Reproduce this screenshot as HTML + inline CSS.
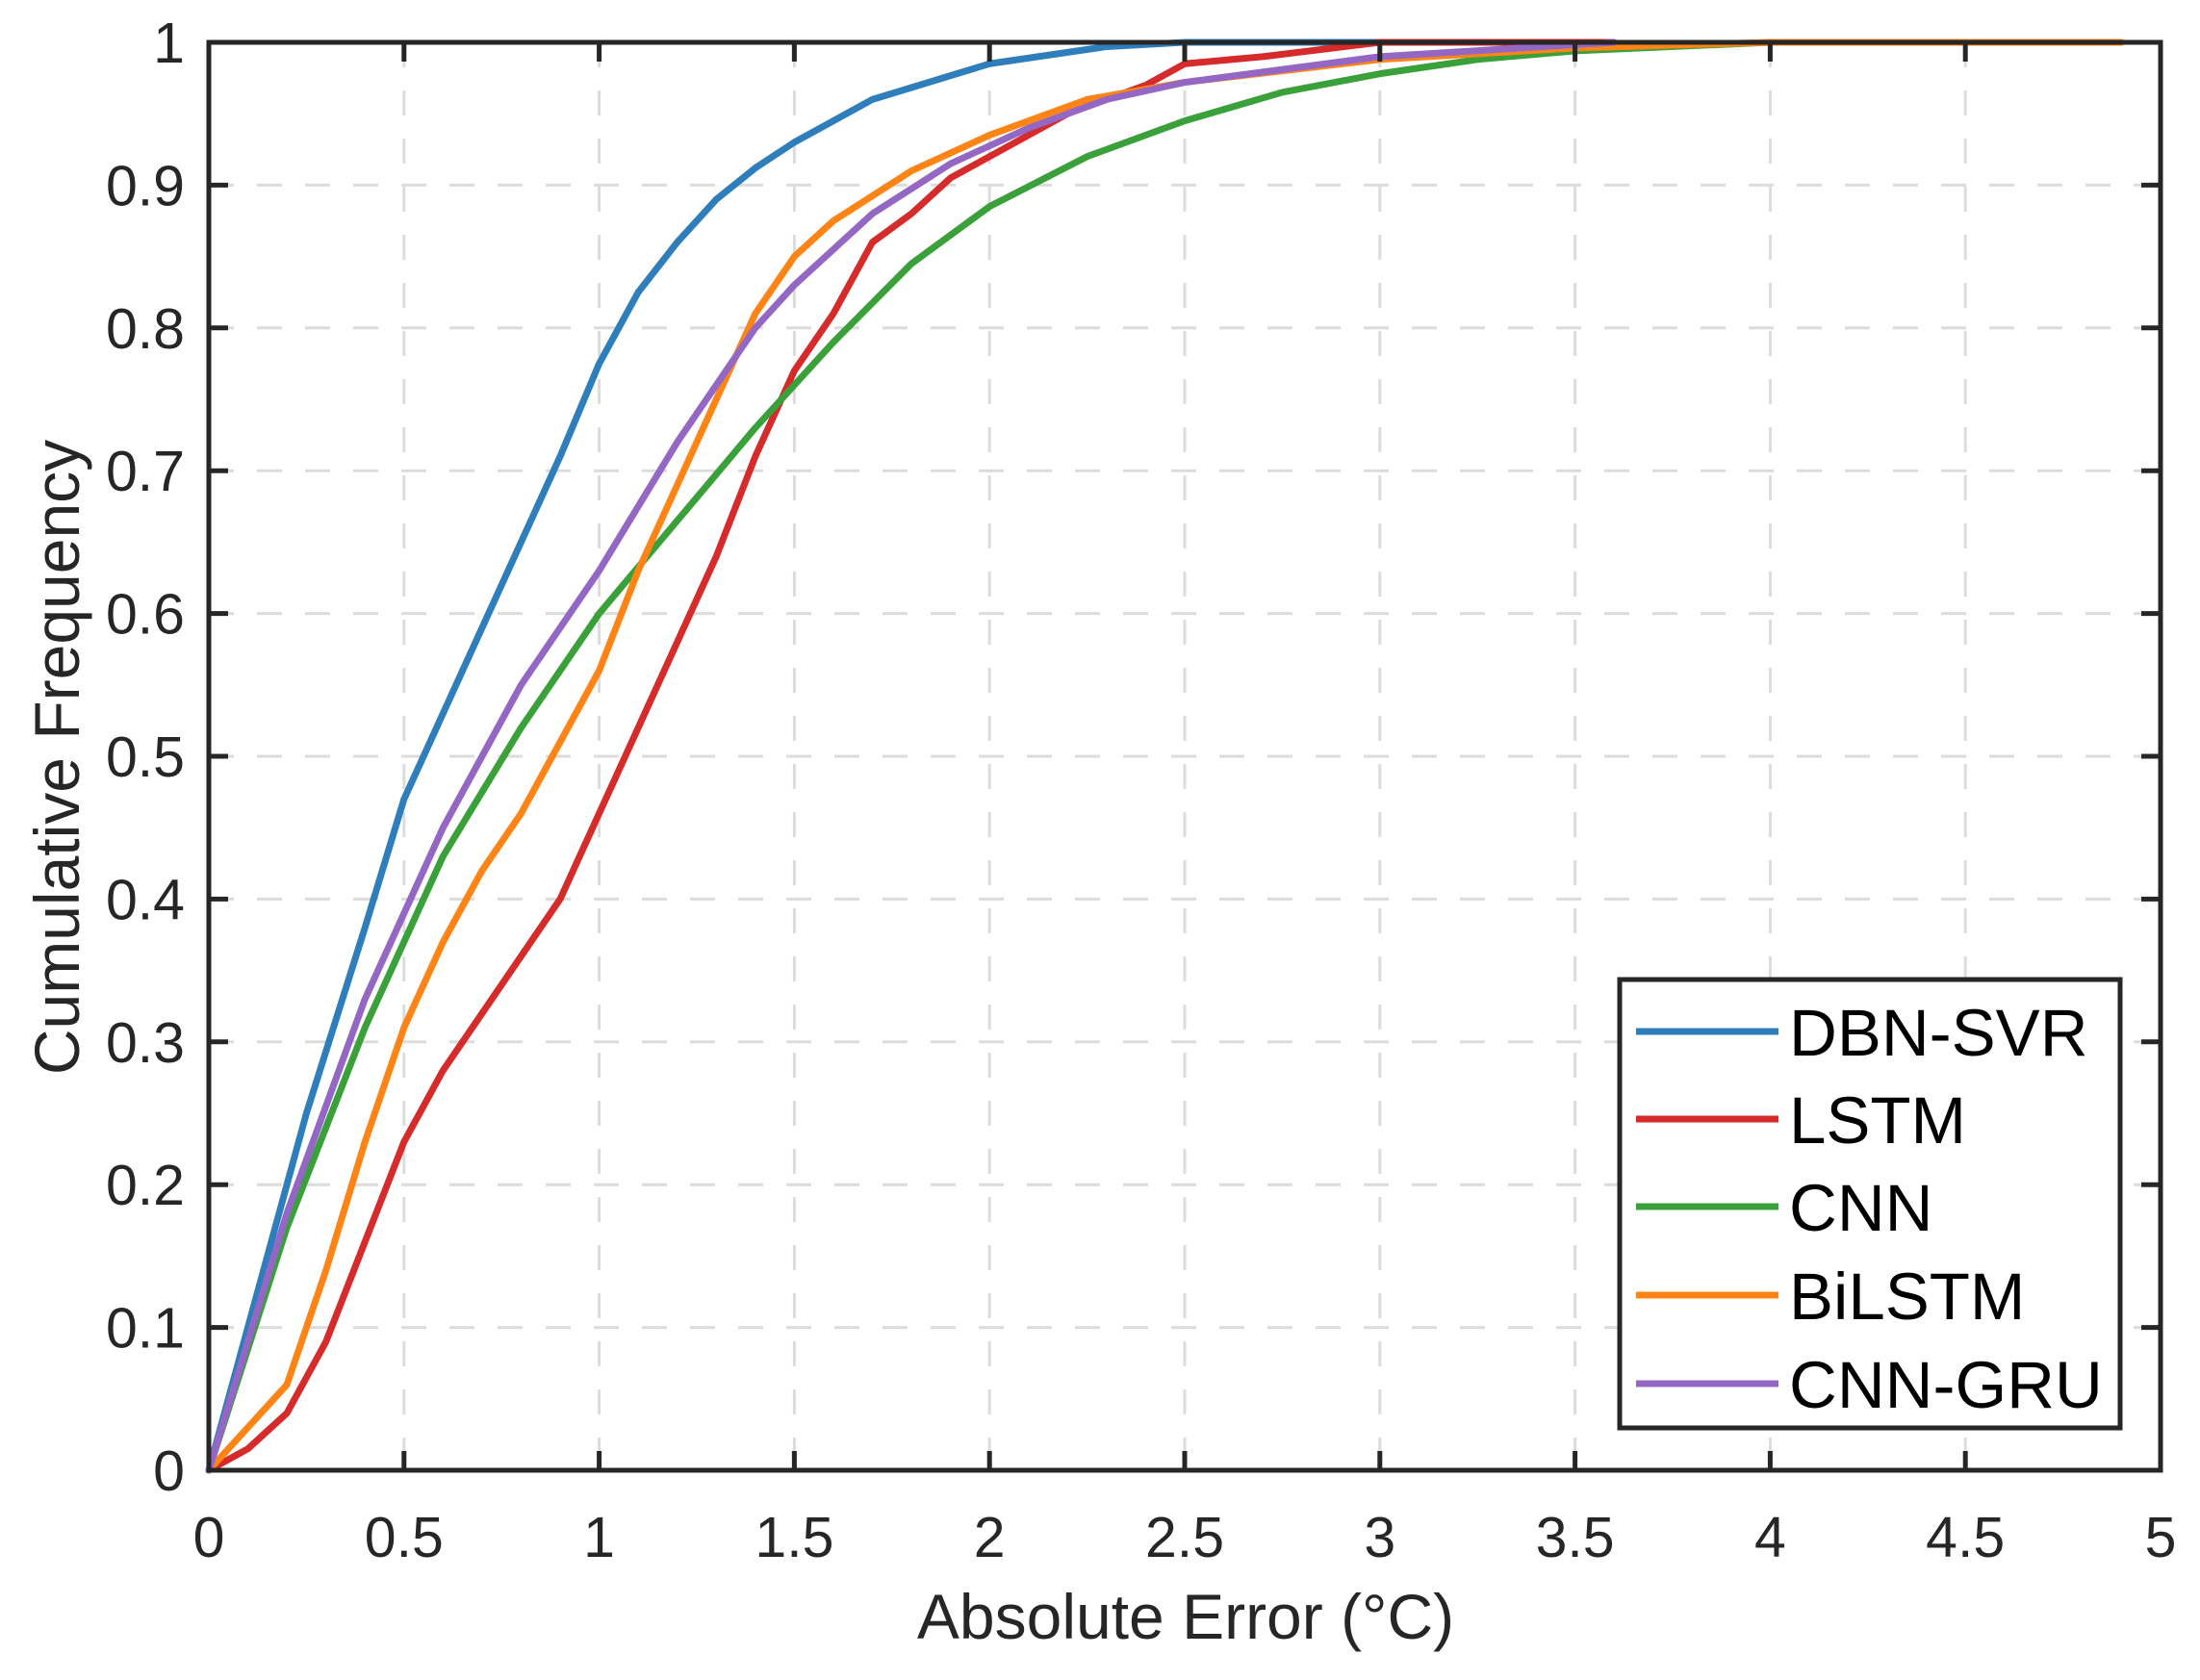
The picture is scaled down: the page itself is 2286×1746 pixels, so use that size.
<!DOCTYPE html>
<html><head><meta charset="utf-8"><style>
html,body{margin:0;padding:0;background:#fff;}
svg{display:block;font-family:"Liberation Sans",sans-serif;}
</style></head><body>
<svg width="2286" height="1746" viewBox="0 0 2286 1746" xmlns="http://www.w3.org/2000/svg">
<rect width="2286" height="1746" fill="#fff"/>
<g stroke="#dcdcdc" stroke-width="3" stroke-dasharray="26,24">
<line x1="419.8" y1="44" x2="419.8" y2="1528"/><line x1="622.6" y1="44" x2="622.6" y2="1528"/><line x1="825.4" y1="44" x2="825.4" y2="1528"/><line x1="1028.2" y1="44" x2="1028.2" y2="1528"/><line x1="1231" y1="44" x2="1231" y2="1528"/><line x1="1433.8" y1="44" x2="1433.8" y2="1528"/><line x1="1636.6" y1="44" x2="1636.6" y2="1528"/><line x1="1839.4" y1="44" x2="1839.4" y2="1528"/><line x1="2042.2" y1="44" x2="2042.2" y2="1528"/>
<line x1="217" y1="1379.6" x2="2245" y2="1379.6"/><line x1="217" y1="1231.2" x2="2245" y2="1231.2"/><line x1="217" y1="1082.8" x2="2245" y2="1082.8"/><line x1="217" y1="934.4" x2="2245" y2="934.4"/><line x1="217" y1="786" x2="2245" y2="786"/><line x1="217" y1="637.6" x2="2245" y2="637.6"/><line x1="217" y1="489.2" x2="2245" y2="489.2"/><line x1="217" y1="340.8" x2="2245" y2="340.8"/><line x1="217" y1="192.4" x2="2245" y2="192.4"/>
</g>
<g transform="translate(217,1528) scale(405.6,-1484)" fill="none" stroke-width="7" stroke-linejoin="round" stroke-linecap="round">
<polyline vector-effect="non-scaling-stroke" stroke="#2e7ebc" points="0,0 0.1,0.1 0.25,0.25 0.4,0.38 0.5,0.47 0.6,0.53 0.75,0.62 0.9,0.71 1,0.775 1.1,0.825 1.2,0.86 1.3,0.89 1.4,0.912 1.5,0.93 1.7,0.96 2,0.985 2.3,0.997 2.5,1 3.5,1"/>
<polyline vector-effect="non-scaling-stroke" stroke="#d62b2b" points="0,0 0.1,0.015 0.2,0.04 0.3,0.09 0.4,0.16 0.5,0.23 0.6,0.28 0.7,0.32 0.8,0.36 0.9,0.4 1,0.46 1.1,0.52 1.2,0.58 1.3,0.64 1.4,0.71 1.5,0.77 1.6,0.81 1.7,0.86 1.8,0.88 1.9,0.905 2,0.92 2.2,0.95 2.4,0.97 2.5,0.985 2.7,0.99 3,1 3.6,1"/>
<polyline vector-effect="non-scaling-stroke" stroke="#3aa03a" points="0,0 0.2,0.17 0.4,0.31 0.6,0.43 0.8,0.52 1,0.6 1.2,0.665 1.4,0.73 1.6,0.79 1.8,0.845 2,0.885 2.25,0.92 2.5,0.945 2.75,0.965 3,0.978 3.25,0.988 3.5,0.994 4,1"/>
<polyline vector-effect="non-scaling-stroke" stroke="#ff8416" points="0,0 0.2,0.06 0.3,0.14 0.4,0.23 0.5,0.31 0.6,0.37 0.7,0.42 0.8,0.46 0.9,0.51 1,0.56 1.1,0.63 1.2,0.69 1.3,0.75 1.4,0.81 1.5,0.85 1.6,0.875 1.8,0.91 2,0.935 2.25,0.96 2.5,0.972 3,0.988 3.5,0.996 4,1 4.9,1"/>
<polyline vector-effect="non-scaling-stroke" stroke="#9467c4" points="0,0 0.2,0.18 0.4,0.33 0.6,0.45 0.8,0.55 1,0.63 1.2,0.72 1.4,0.8 1.5,0.83 1.7,0.88 1.9,0.915 2.1,0.94 2.3,0.96 2.5,0.972 3,0.99 3.6,1"/>
</g>
<g stroke="#262626" stroke-width="5">
<rect x="217" y="44" width="2028" height="1484" fill="none"/>
<path d="M419.8,1528v-20M622.6,1528v-20M825.4,1528v-20M1028.2,1528v-20M1231,1528v-20M1433.8,1528v-20M1636.6,1528v-20M1839.4,1528v-20M2042.2,1528v-20
M419.8,44v20M622.6,44v20M825.4,44v20M1028.2,44v20M1231,44v20M1433.8,44v20M1636.6,44v20M1839.4,44v20M2042.2,44v20
M217,1379.6h20M217,1231.2h20M217,1082.8h20M217,934.4h20M217,786h20M217,637.6h20M217,489.2h20M217,340.8h20M217,192.4h20
M2245,1379.6h-20M2245,1231.2h-20M2245,1082.8h-20M2245,934.4h-20M2245,786h-20M2245,637.6h-20M2245,489.2h-20M2245,340.8h-20M2245,192.4h-20"/>
</g>
<g fill="#262626" font-size="59" text-anchor="end">
<text x="192" y="1549">0</text><text x="192" y="1400.6">0.1</text><text x="192" y="1252.2">0.2</text><text x="192" y="1103.8">0.3</text><text x="192" y="955.4">0.4</text><text x="192" y="807">0.5</text><text x="192" y="658.6">0.6</text><text x="192" y="510.2">0.7</text><text x="192" y="361.8">0.8</text><text x="192" y="213.4">0.9</text><text x="192" y="65">1</text>
</g>
<g fill="#262626" font-size="59" text-anchor="middle">
<text x="217" y="1618">0</text><text x="419.8" y="1618">0.5</text><text x="622.6" y="1618">1</text><text x="825.4" y="1618">1.5</text><text x="1028.2" y="1618">2</text><text x="1231" y="1618">2.5</text><text x="1433.8" y="1618">3</text><text x="1636.6" y="1618">3.5</text><text x="1839.4" y="1618">4</text><text x="2042.2" y="1618">4.5</text><text x="2245" y="1618">5</text>
<text x="1232" y="1703" font-size="66">Absolute Error (°C)</text>
<text transform="translate(82,787) rotate(-90)" font-size="66">Cumulative Frequency</text>
</g>
<rect x="1683" y="1018" width="520" height="466" fill="#fff" stroke="#262626" stroke-width="5"/>
<g stroke-width="7">
<line x1="1700" y1="1072" x2="1848" y2="1072" stroke="#2e7ebc"/>
<line x1="1700" y1="1163" x2="1848" y2="1163" stroke="#d62b2b"/>
<line x1="1700" y1="1254" x2="1848" y2="1254" stroke="#3aa03a"/>
<line x1="1700" y1="1346" x2="1848" y2="1346" stroke="#ff8416"/>
<line x1="1700" y1="1438" x2="1848" y2="1438" stroke="#9467c4"/>
</g>
<g fill="#000" font-size="69">
<text x="1859" y="1097">DBN-SVR</text>
<text x="1859" y="1188">LSTM</text>
<text x="1859" y="1279">CNN</text>
<text x="1859" y="1371">BiLSTM</text>
<text x="1859" y="1463">CNN-GRU</text>
</g>
</svg>
</body></html>
